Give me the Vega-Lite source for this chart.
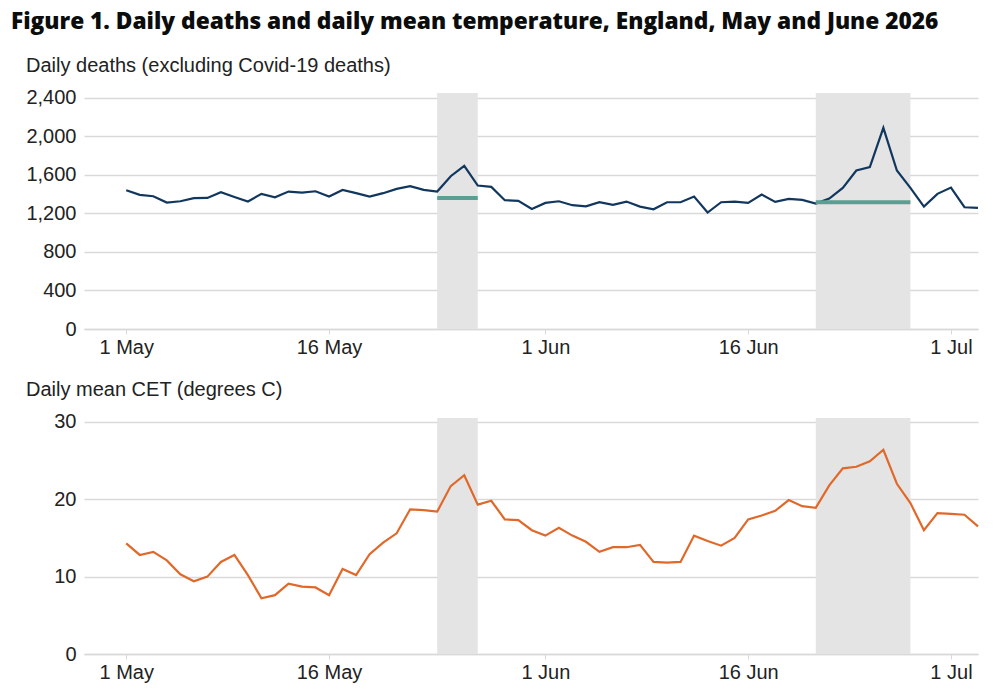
{
  "$schema": "https://vega.github.io/schema/vega-lite/v6.json",
  "background": "white",
  "padding": {"left": 10, "top": 11, "right": 5, "bottom": 5},
  "title": {
    "text": "Figure 1. Daily deaths and daily mean temperature, England, May and June 2026",
    "anchor": "start",
    "frame": "bounds",
    "dx": -15,
    "font": "Open Sans",
    "fontSize": 22.7,
    "fontWeight": 800,
    "color": "#0b0c0c",
    "offset": 22
  },
  "config": {
    "view": {"stroke": null},
    "font": "Liberation Sans",
    "axis": {
      "labelFont": "Liberation Sans",
      "labelFontSize": 20,
      "labelColor": "#222222",
      "gridColor": "#d9d9d9",
      "gridWidth": 1.5,
      "domain": false,
      "ticks": false,
      "title": null,
      "labelOverlap": false
    }
  },
  "datasets": {
    "daily": [
      {"date": "2026-05-01", "deaths": 1441, "cet": 14.3},
      {"date": "2026-05-02", "deaths": 1392, "cet": 12.8},
      {"date": "2026-05-03", "deaths": 1378, "cet": 13.2},
      {"date": "2026-05-04", "deaths": 1313, "cet": 12.1},
      {"date": "2026-05-05", "deaths": 1326, "cet": 10.3},
      {"date": "2026-05-06", "deaths": 1358, "cet": 9.4},
      {"date": "2026-05-07", "deaths": 1361, "cet": 10.0},
      {"date": "2026-05-08", "deaths": 1420, "cet": 11.9},
      {"date": "2026-05-09", "deaths": 1371, "cet": 12.8},
      {"date": "2026-05-10", "deaths": 1323, "cet": 10.2},
      {"date": "2026-05-11", "deaths": 1403, "cet": 7.2},
      {"date": "2026-05-12", "deaths": 1368, "cet": 7.6},
      {"date": "2026-05-13", "deaths": 1427, "cet": 9.1},
      {"date": "2026-05-14", "deaths": 1416, "cet": 8.7},
      {"date": "2026-05-15", "deaths": 1430, "cet": 8.6},
      {"date": "2026-05-16", "deaths": 1375, "cet": 7.6},
      {"date": "2026-05-17", "deaths": 1444, "cet": 11.0},
      {"date": "2026-05-18", "deaths": 1410, "cet": 10.2},
      {"date": "2026-05-19", "deaths": 1375, "cet": 12.9},
      {"date": "2026-05-20", "deaths": 1410, "cet": 14.4},
      {"date": "2026-05-21", "deaths": 1455, "cet": 15.6},
      {"date": "2026-05-22", "deaths": 1482, "cet": 18.7},
      {"date": "2026-05-23", "deaths": 1444, "cet": 18.6},
      {"date": "2026-05-24", "deaths": 1427, "cet": 18.4},
      {"date": "2026-05-25", "deaths": 1586, "cet": 21.7},
      {"date": "2026-05-26", "deaths": 1694, "cet": 23.1},
      {"date": "2026-05-27", "deaths": 1489, "cet": 19.3},
      {"date": "2026-05-28", "deaths": 1475, "cet": 19.8},
      {"date": "2026-05-29", "deaths": 1337, "cet": 17.4},
      {"date": "2026-05-30", "deaths": 1330, "cet": 17.3},
      {"date": "2026-05-31", "deaths": 1246, "cet": 16.0},
      {"date": "2026-06-01", "deaths": 1309, "cet": 15.3},
      {"date": "2026-06-02", "deaths": 1326, "cet": 16.3},
      {"date": "2026-06-03", "deaths": 1285, "cet": 15.3},
      {"date": "2026-06-04", "deaths": 1274, "cet": 14.5},
      {"date": "2026-06-05", "deaths": 1316, "cet": 13.2},
      {"date": "2026-06-06", "deaths": 1288, "cet": 13.8},
      {"date": "2026-06-07", "deaths": 1323, "cet": 13.8},
      {"date": "2026-06-08", "deaths": 1271, "cet": 14.1},
      {"date": "2026-06-09", "deaths": 1243, "cet": 11.9},
      {"date": "2026-06-10", "deaths": 1316, "cet": 11.8},
      {"date": "2026-06-11", "deaths": 1316, "cet": 11.9},
      {"date": "2026-06-12", "deaths": 1375, "cet": 15.3},
      {"date": "2026-06-13", "deaths": 1209, "cet": 14.6},
      {"date": "2026-06-14", "deaths": 1316, "cet": 14.0},
      {"date": "2026-06-15", "deaths": 1323, "cet": 15.0},
      {"date": "2026-06-16", "deaths": 1309, "cet": 17.4},
      {"date": "2026-06-17", "deaths": 1396, "cet": 17.9},
      {"date": "2026-06-18", "deaths": 1319, "cet": 18.5},
      {"date": "2026-06-19", "deaths": 1351, "cet": 19.9},
      {"date": "2026-06-20", "deaths": 1340, "cet": 19.1},
      {"date": "2026-06-21", "deaths": 1302, "cet": 18.9},
      {"date": "2026-06-22", "deaths": 1354, "cet": 21.8},
      {"date": "2026-06-23", "deaths": 1465, "cet": 24.0},
      {"date": "2026-06-24", "deaths": 1645, "cet": 24.2},
      {"date": "2026-06-25", "deaths": 1680, "cet": 24.9},
      {"date": "2026-06-26", "deaths": 2088, "cet": 26.4},
      {"date": "2026-06-27", "deaths": 1645, "cet": 22.0},
      {"date": "2026-06-28", "deaths": 1465, "cet": 19.5},
      {"date": "2026-06-29", "deaths": 1271, "cet": 16.0},
      {"date": "2026-06-30", "deaths": 1403, "cet": 18.2},
      {"date": "2026-07-01", "deaths": 1468, "cet": 18.1},
      {"date": "2026-07-02", "deaths": 1264, "cet": 18.0},
      {"date": "2026-07-03", "deaths": 1257, "cet": 16.5}
    ],
    "heat": [
      {"start": "2026-05-24", "end": "2026-05-27", "baseline": 1361},
      {"start": "2026-06-21", "end": "2026-06-28", "baseline": 1315}
    ]
  },
  "spacing": 22,
  "vconcat": [
    {
      "width": 894,
      "height": 236,
      "title": {
        "text": "Daily deaths (excluding Covid-19 deaths)",
        "anchor": "start",
        "frame": "group",
        "dx": -58,
        "font": "Liberation Sans",
        "fontSize": 20,
        "fontWeight": "normal",
        "color": "#222222",
        "offset": 12
      },
      "layer": [
        {
          "data": {"name": "heat"},
          "mark": {"type": "rect", "color": "#e4e4e4"},
          "encoding": {
            "x": {"field": "start", "type": "temporal", "scale": {"type": "utc"}},
            "x2": {"field": "end"}
          }
        },
        {
          "data": {"name": "daily"},
          "mark": {"type": "line", "color": "#12375f", "strokeWidth": 2.2},
          "encoding": {
            "x": {
              "field": "date", "type": "temporal",
              "scale": {"type": "utc", "domain": [{"year": 2026, "month": 4, "date": 27, "hours": 21, "utc": true}, {"year": 2026, "month": 7, "date": 3, "utc": true}]},
              "axis": {
                "values": [
                  {"year": 2026, "month": 5, "date": 1, "utc": true},
                  {"year": 2026, "month": 5, "date": 16, "utc": true},
                  {"year": 2026, "month": 6, "date": 1, "utc": true},
                  {"year": 2026, "month": 6, "date": 16, "utc": true},
                  {"year": 2026, "month": 7, "date": 1, "utc": true}
                ],
                "labelExpr": "utcFormat(datum.value, '%-d %b')",
                "grid": false,
                "domain": true,
                "domainColor": "#d9d9d9",
                "domainWidth": 1.5,
                "ticks": true,
                "tickColor": "#d9d9d9",
                "tickSize": 5,
                "labelPadding": 3
              }
            },
            "y": {
              "field": "deaths", "type": "quantitative",
              "scale": {"domain": [0, 2450], "nice": false},
              "axis": {
                "values": [0, 400, 800, 1200, 1600, 2000, 2400],
                "labelExpr": "format(datum.value, ',')",
                "grid": true,
                "labelPadding": 8
              }
            }
          }
        },
        {
          "data": {"name": "heat"},
          "mark": {"type": "rule", "color": "#5a9f91", "strokeWidth": 4},
          "encoding": {
            "x": {"field": "start", "type": "temporal"},
            "x2": {"field": "end"},
            "y": {
              "field": "baseline", "type": "quantitative",
              "axis": {
                "values": [0, 400, 800, 1200, 1600, 2000, 2400],
                "labelExpr": "format(datum.value, ',')",
                "grid": true,
                "labelPadding": 8
              }
            }
          }
        }
      ]
    },
    {
      "width": 894,
      "height": 236,
      "title": {
        "text": "Daily mean CET (degrees C)",
        "anchor": "start",
        "frame": "group",
        "dx": -58,
        "font": "Liberation Sans",
        "fontSize": 20,
        "fontWeight": "normal",
        "color": "#222222",
        "offset": 12
      },
      "layer": [
        {
          "data": {"name": "heat"},
          "mark": {"type": "rect", "color": "#e4e4e4"},
          "encoding": {
            "x": {"field": "start", "type": "temporal", "scale": {"type": "utc"}},
            "x2": {"field": "end"}
          }
        },
        {
          "data": {"name": "daily"},
          "mark": {"type": "line", "color": "#e0692a", "strokeWidth": 2.2},
          "encoding": {
            "x": {
              "field": "date", "type": "temporal",
              "scale": {"type": "utc", "domain": [{"year": 2026, "month": 4, "date": 27, "hours": 21, "utc": true}, {"year": 2026, "month": 7, "date": 3, "utc": true}]},
              "axis": {
                "values": [
                  {"year": 2026, "month": 5, "date": 1, "utc": true},
                  {"year": 2026, "month": 5, "date": 16, "utc": true},
                  {"year": 2026, "month": 6, "date": 1, "utc": true},
                  {"year": 2026, "month": 6, "date": 16, "utc": true},
                  {"year": 2026, "month": 7, "date": 1, "utc": true}
                ],
                "labelExpr": "utcFormat(datum.value, '%-d %b')",
                "grid": false,
                "domain": true,
                "domainColor": "#d9d9d9",
                "domainWidth": 1.5,
                "ticks": true,
                "tickColor": "#d9d9d9",
                "tickSize": 5,
                "labelPadding": 3
              }
            },
            "y": {
              "field": "cet", "type": "quantitative",
              "scale": {"domain": [0, 30.5], "nice": false},
              "axis": {
                "values": [0, 10, 20, 30],
                "grid": true,
                "labelPadding": 8
              }
            }
          }
        }
      ]
    }
  ]
}
